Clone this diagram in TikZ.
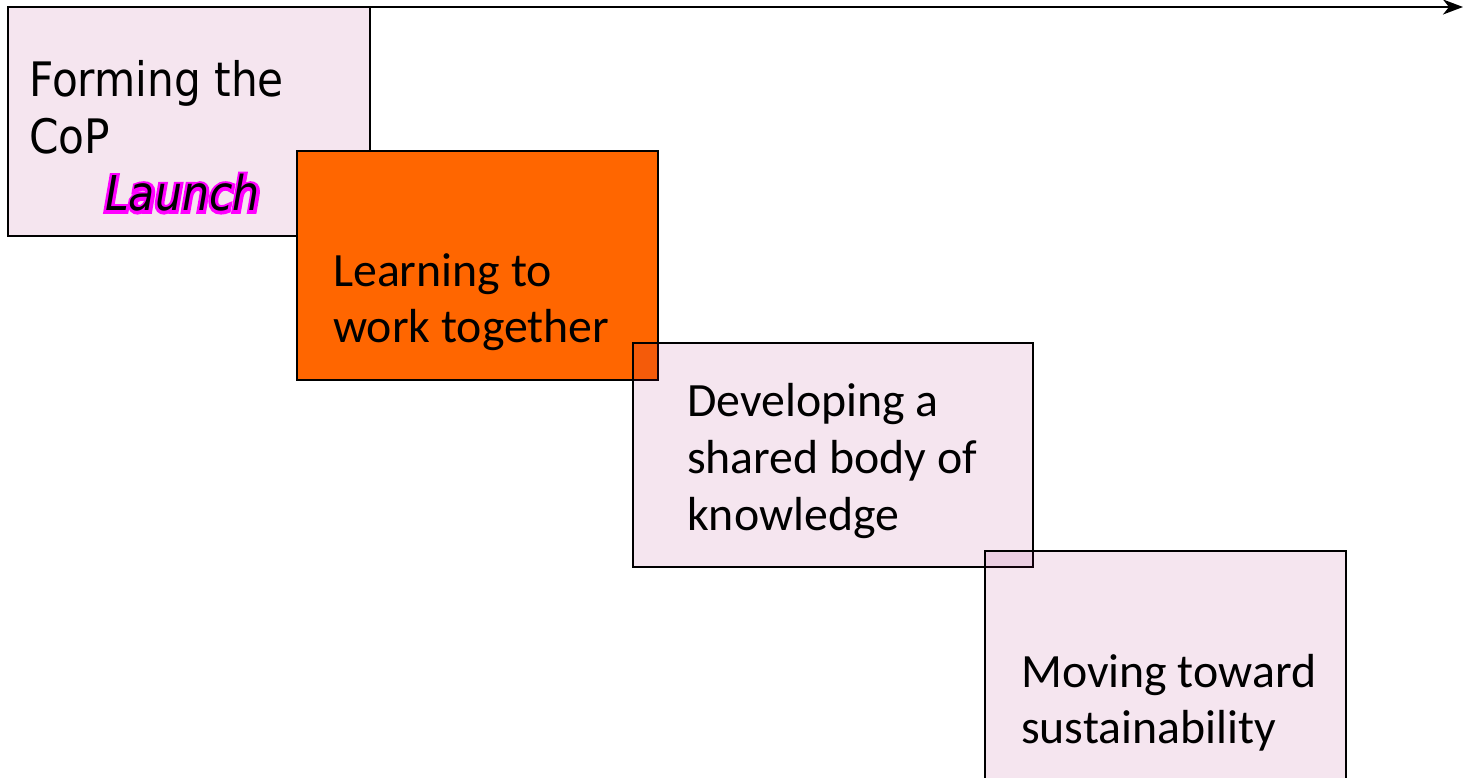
\documentclass[tikz,border=0pt]{standalone}
\usepackage{fontspec}
\usetikzlibrary{arrows.meta}
\newfontfamily\tahfont[FakeStretch=0.89]{DejaVu Sans}
\newfontfamily\tahglow[FakeStretch=0.89, FakeBold=12]{DejaVu Sans}
\newfontfamily\calfont{Carlito}
\definecolor{boxpink}{RGB}{153,0,102}
\definecolor{orangebox}{RGB}{255,102,0}
\definecolor{launchmag}{RGB}{255,0,255}
\tikzset{
  x=1pt, y=-1pt,
  stagebox/.style={draw=black, line width=2pt, rectangle, inner sep=0pt, outer sep=0pt, anchor=north west},
  pinkbox/.style={stagebox, fill=boxpink, fill opacity=0.1},
  orbox/.style={stagebox, fill=orangebox},
  tahtext/.style={inner sep=0pt, anchor=base west, font=\tahfont\fontsize{47.5}{56}\selectfont},
  caltext/.style={inner sep=0pt, anchor=base west, font=\calfont\fontsize{47.8}{56}\selectfont},
  launchtext/.style={inner sep=0pt, anchor=base west, font=\tahfont\itshape\fontsize{48}{56}\selectfont},
  launchglow/.style={inner sep=0pt, anchor=base west, text=launchmag, font=\tahglow\itshape\fontsize{48}{56}\selectfont},
}
\begin{document}
\begin{tikzpicture}
\clip (0,0) rectangle (1464,778);
\useasboundingbox (0,0) rectangle (1464,778);
% box 1
\node[pinkbox, minimum width=362, minimum height=229] (b1) at (8,7) {};
\coordinate (arrowend) at (1463,7);
\draw[line width=2.4pt, -{Stealth[length=20pt, width=15pt, inset=6pt]}] (b1.north west) -- (arrowend);
\node[tahtext] (t1a) at (29,97) {Forming the};
\node[tahtext] (t1b) at (29,154) {CoP};
\node[launchglow] (t1g) at (105,211) {Launch};
\node[launchtext] (t1c) at (105,211) {Launch};
% box 2
\node[orbox, minimum width=361, minimum height=229] (b2) at (297,151) {};
\node[caltext] (t2a) at (333,286) {Learning to};
\node[caltext] (t2b) at (333,342) {work together};
% box 3
\node[pinkbox, minimum width=400, minimum height=224] (b3) at (633,343) {};
\node[caltext] (t3a) at (687,416) {Developing a};
\node[caltext] (t3b) at (687,473) {shared body of};
\node[caltext] (t3c) at (687,530) {knowledge};
% box 4
\node[pinkbox, minimum width=361, minimum height=260] (b4) at (985,551) {};
\node[caltext] (t4a) at (1021,687) {Moving toward};
\node[caltext] (t4b) at (1021,743) {sustainability};
\end{tikzpicture}
\end{document}
